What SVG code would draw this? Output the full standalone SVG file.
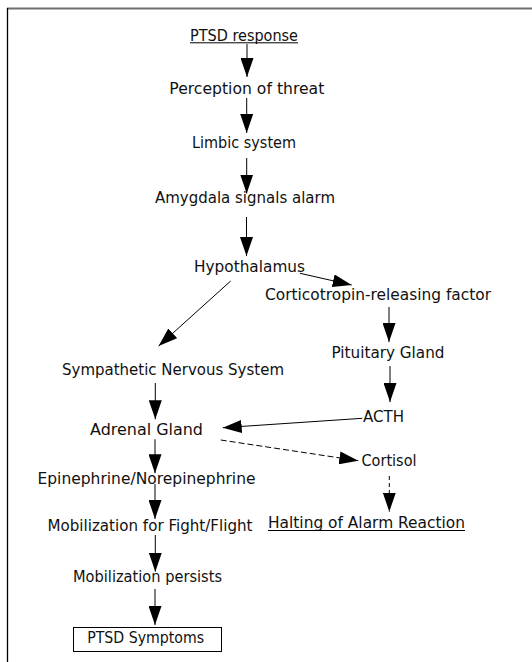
<svg xmlns="http://www.w3.org/2000/svg" width="532" height="662" viewBox="0 0 532 662">
<style>
text{font-family:"DejaVu Sans","Liberation Sans",sans-serif;font-size:15px;fill:#111;text-anchor:middle}
.c{stroke:#000;stroke-width:1;fill:none}
.d{stroke:#000;stroke-width:1;fill:none;stroke-dasharray:6,3}
.dv{stroke:#000;stroke-width:1;fill:none;stroke-dasharray:4,3}
.u{stroke:#000;stroke-width:1}
</style>
<defs>
<marker id="ah" markerUnits="userSpaceOnUse" markerWidth="19" markerHeight="13" refX="19" refY="6.5" orient="auto">
<path d="M0,0 L19,6.5 L0,13 Z" fill="#000"/>
</marker>
</defs>
<rect width="532" height="662" fill="#fff"/>
<g id="frame">
<line x1="7" y1="8.5" x2="532" y2="8.5" stroke="#6e6e6e" stroke-width="2"/>
<line x1="7.5" y1="8" x2="7.5" y2="662" stroke="#000" stroke-width="1.3"/>
</g>
<g id="connectors">
<line class="c" x1="247" y1="44" x2="247" y2="77" marker-end="url(#ah)"/>
<line class="c" x1="246.7" y1="98" x2="246.7" y2="133" marker-end="url(#ah)"/>
<line class="c" x1="246.7" y1="158" x2="246.7" y2="193.5" marker-end="url(#ah)"/>
<line class="c" x1="246.5" y1="217" x2="246.5" y2="256" marker-end="url(#ah)"/>
<line class="c" x1="300" y1="273.3" x2="351.7" y2="285" marker-end="url(#ah)"/>
<line class="c" x1="230.7" y1="281" x2="158.6" y2="346" marker-end="url(#ah)"/>
<line class="c" x1="389" y1="307" x2="389" y2="342" marker-end="url(#ah)"/>
<line class="c" x1="390" y1="366" x2="390" y2="402" marker-end="url(#ah)"/>
<line class="c" x1="362.3" y1="418.3" x2="222.7" y2="427.7" marker-end="url(#ah)"/>
<line class="c" x1="155.3" y1="383" x2="155.3" y2="419.3" marker-end="url(#ah)"/>
<line class="c" x1="155" y1="439.3" x2="155" y2="473.3" marker-end="url(#ah)"/>
<line class="c" x1="155" y1="484" x2="155" y2="519" marker-end="url(#ah)"/>
<line class="c" x1="155.3" y1="535" x2="155.3" y2="571.7" marker-end="url(#ah)"/>
<line class="c" x1="155" y1="589" x2="155" y2="625" marker-end="url(#ah)"/>
<line class="d" x1="220.7" y1="440" x2="358.3" y2="460.7" marker-end="url(#ah)"/>
<line class="dv" x1="389.3" y1="476" x2="389.3" y2="511.7" marker-end="url(#ah)"/>
</g>
<g id="ptsd-response">
<text x="244" y="40.5" textLength="108" lengthAdjust="spacingAndGlyphs">PTSD response</text>
<line class="u" x1="190" y1="42.8" x2="298" y2="42.8"/>
</g>
<g id="perception"><text x="246.8" y="94" textLength="155" lengthAdjust="spacingAndGlyphs">Perception of threat</text></g>
<g id="limbic"><text x="244" y="148.3" textLength="104" lengthAdjust="spacingAndGlyphs">Limbic system</text></g>
<g id="amygdala"><text x="245" y="202.5" textLength="180" lengthAdjust="spacingAndGlyphs">Amygdala signals alarm</text></g>
<g id="hypothalamus"><text x="249.5" y="271.7" textLength="111" lengthAdjust="spacingAndGlyphs">Hypothalamus</text></g>
<g id="crf"><text x="378" y="300" textLength="226" lengthAdjust="spacingAndGlyphs">Corticotropin-releasing factor</text></g>
<g id="pituitary"><text x="388" y="358" textLength="113" lengthAdjust="spacingAndGlyphs">Pituitary Gland</text></g>
<g id="acth"><text x="383.5" y="422" textLength="41" lengthAdjust="spacingAndGlyphs">ACTH</text></g>
<g id="sns"><text x="173" y="375" textLength="222" lengthAdjust="spacingAndGlyphs">Sympathetic Nervous System</text></g>
<g id="adrenal"><text x="146.5" y="435" textLength="113" lengthAdjust="spacingAndGlyphs">Adrenal Gland</text></g>
<g id="epinephrine"><text x="146.5" y="484" textLength="218" lengthAdjust="spacingAndGlyphs">Epinephrine/Norepinephrine</text></g>
<g id="cortisol"><text x="389" y="466" textLength="55" lengthAdjust="spacingAndGlyphs">Cortisol</text></g>
<g id="halting">
<text x="366.5" y="527.5" textLength="197" lengthAdjust="spacingAndGlyphs">Halting of Alarm Reaction</text>
<line class="u" x1="268" y1="530.5" x2="465" y2="530.5"/>
</g>
<g id="mobilization-ff"><text x="150" y="531" textLength="205" lengthAdjust="spacingAndGlyphs">Mobilization for Fight/Flight</text></g>
<g id="mobilization-persists"><text x="147.5" y="582" textLength="149" lengthAdjust="spacingAndGlyphs">Mobilization persists</text></g>
<g id="ptsd-symptoms">
<rect x="73.5" y="627.5" width="148" height="24" fill="none" stroke="#000" stroke-width="1"/>
<text x="145.7" y="643" textLength="117" lengthAdjust="spacingAndGlyphs">PTSD Symptoms</text>
</g>
</svg>
